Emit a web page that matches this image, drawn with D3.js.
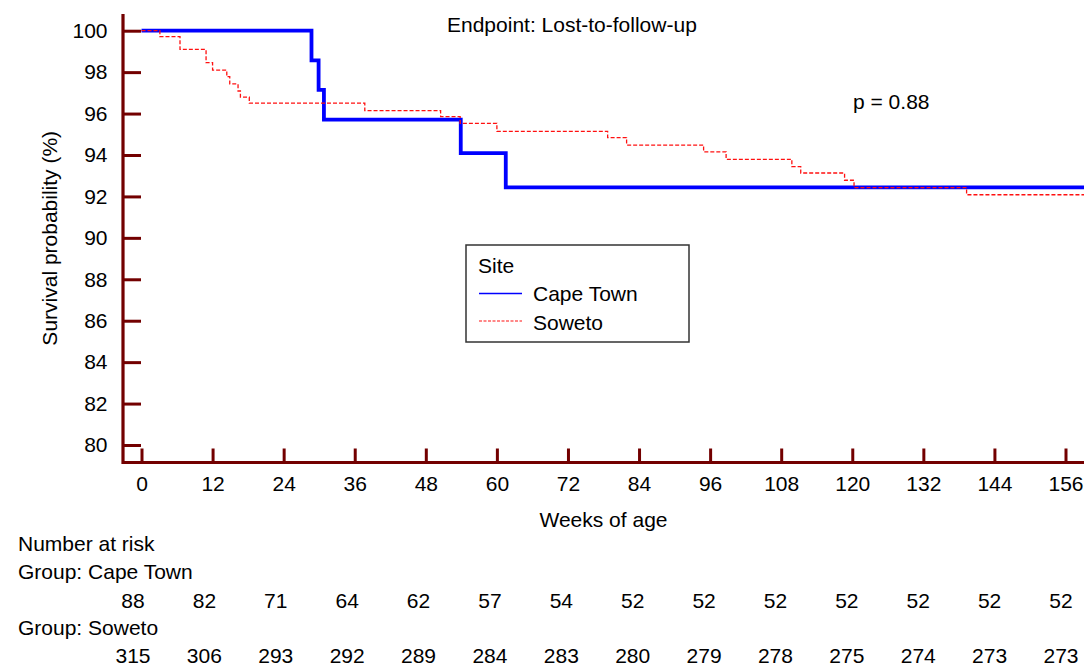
<!DOCTYPE html>
<html>
<head>
<meta charset="utf-8">
<script src="https://cdn.jsdelivr.net/npm/d3@7"></script>
<style>
  body { margin: 0; background: #fff; }
  svg { display: block; font-family: "Liberation Sans", Arial, sans-serif; }
</style>
</head>
<body>
<div id="chart"></div>
<script>
// Kaplan-Meier curves (weeks, survival %)
const capeWeeks = [0, 28.7, 29.9, 30.8, 53.9, 61.5];
const capeSurv  = [100, 98.57, 97.14, 95.71, 94.09, 92.44];

const sowetoWeeks = [0, 3.1, 6.5, 10.9, 12.0, 14.4, 14.9, 16.3, 16.7, 18.2, 37.7, 50.5, 53.8, 60.0,
                     78.7, 81.9, 94.9, 98.7, 109.8, 111.3, 118.7, 120.3, 139.3];
const sowetoSurv  = [100, 99.71, 99.10, 98.46, 98.10, 97.78, 97.43, 97.09, 96.79, 96.50, 96.14, 95.85, 95.53, 95.14,
                     94.84, 94.48, 94.15, 93.79, 93.44, 93.13, 92.78, 92.42, 92.08];

// axis ticks
const weekTicks = [0, 12, 24, 36, 48, 60, 72, 84, 96, 108, 120, 132, 144, 156];
const survTicks = [80, 82, 84, 86, 88, 90, 92, 94, 96, 98, 100];

// number at risk table
const capeAtRisk   = [88, 82, 71, 64, 62, 57, 54, 52, 52, 52, 52, 52, 52, 52];
const sowetoAtRisk = [315, 306, 293, 292, 289, 284, 283, 280, 279, 278, 275, 274, 273, 273];

const W = 1084, H = 668;
const axisColor = "#730000";
const fs = 21;

const svg = d3.select("#chart").append("svg")
  .attr("width", W)
  .attr("height", H);

// scales
const x = d3.scaleLinear().domain([0, 156]).range([141.5, 1065.5]);
const y = d3.scaleLinear().domain([80, 100]).range([445, 30.7]);
const tableX = d3.scaleLinear().domain([0, 156]).range([133, 1061]);

const plotLeft = 123, plotBottom = 462.5, plotTop = 14, plotRight = W;
const endWeek = x.invert(plotRight);

// axes (ticks point inward)
const xAxis = d3.axisBottom(x)
  .tickValues(weekTicks)
  .tickSizeInner(-14)
  .tickSizeOuter(0)
  .tickPadding(13.5);

const yAxis = d3.axisLeft(y)
  .tickValues(survTicks)
  .tickSizeInner(-18)
  .tickSizeOuter(0)
  .tickPadding(15.5);

const gx = svg.append("g").attr("transform", `translate(0,${plotBottom})`).call(xAxis);
const gy = svg.append("g").attr("transform", `translate(${plotLeft},0)`).call(yAxis);

[gx, gy].forEach(g => {
  g.select(".domain").remove();
  g.selectAll(".tick line").attr("stroke", axisColor).attr("stroke-width", 3);
  g.selectAll(".tick text")
    .attr("fill", "#000")
    .style("font-size", fs + "px")
    .style("font-family", "'Liberation Sans', Arial, sans-serif");
});

// axis lines
svg.append("line")
  .attr("x1", plotLeft).attr("x2", plotRight)
  .attr("y1", plotBottom).attr("y2", plotBottom)
  .attr("stroke", axisColor).attr("stroke-width", 3.2);
svg.append("line")
  .attr("x1", plotLeft).attr("x2", plotLeft)
  .attr("y1", plotTop).attr("y2", plotBottom + 1.6)
  .attr("stroke", axisColor).attr("stroke-width", 3.2);

// step curves
const toPoints = (weeks, surv) => {
  const pts = weeks.map((w, i) => [w, surv[i]]);
  pts.push([endWeek, surv[surv.length - 1]]);
  return pts;
};

const stepLine = d3.line()
  .x(d => x(d[0]))
  .y(d => y(d[1]))
  .curve(d3.curveStepAfter);

svg.append("path")
  .datum(toPoints(capeWeeks, capeSurv))
  .attr("d", stepLine)
  .attr("fill", "none")
  .attr("stroke", "#0000ff")
  .attr("stroke-width", 3.8);

svg.append("path")
  .datum(toPoints(sowetoWeeks, sowetoSurv))
  .attr("d", stepLine)
  .attr("fill", "none")
  .attr("stroke", "#ff1010")
  .attr("stroke-width", 1.3)
  .attr("stroke-dasharray", "4,2");

// titles
svg.append("text")
  .attr("x", 447).attr("y", 32)
  .style("font-size", fs + "px")
  .text("Endpoint: Lost-to-follow-up");

svg.append("text")
  .attr("x", 853).attr("y", 109)
  .style("font-size", fs + "px")
  .text("p = 0.88");

svg.append("text")
  .attr("x", (plotLeft + plotRight) / 2).attr("y", 527)
  .attr("text-anchor", "middle")
  .style("font-size", fs + "px")
  .text("Weeks of age");

svg.append("text")
  .attr("transform", `translate(57,${(plotTop + plotBottom) / 2}) rotate(-90)`)
  .attr("text-anchor", "middle")
  .style("font-size", fs + "px")
  .text("Survival probability (%)");

// legend
const lg = svg.append("g");
lg.append("rect")
  .attr("x", 466).attr("y", 245)
  .attr("width", 223).attr("height", 97)
  .attr("fill", "#fff")
  .attr("stroke", "#333")
  .attr("stroke-width", 1.5);
lg.append("text").attr("x", 478).attr("y", 273).style("font-size", fs + "px").text("Site");
lg.append("line")
  .attr("x1", 479).attr("x2", 522).attr("y1", 293.5).attr("y2", 293.5)
  .attr("stroke", "#0000ff").attr("stroke-width", 1.3);
lg.append("text").attr("x", 533).attr("y", 301).style("font-size", fs + "px").text("Cape Town");
lg.append("line")
  .attr("x1", 479).attr("x2", 522).attr("y1", 321).attr("y2", 321)
  .attr("stroke", "#ff1010").attr("stroke-width", 1.1).attr("stroke-dasharray", "3,1.5");
lg.append("text").attr("x", 533).attr("y", 329.5).style("font-size", fs + "px").text("Soweto");

// number at risk
const tx = 18;
svg.append("text").attr("x", tx).attr("y", 551).style("font-size", fs + "px").text("Number at risk");
svg.append("text").attr("x", tx).attr("y", 579).style("font-size", fs + "px").text("Group: Cape Town");
svg.append("text").attr("x", tx).attr("y", 635).style("font-size", fs + "px").text("Group: Soweto");

svg.append("g").selectAll("text")
  .data(capeAtRisk)
  .join("text")
  .attr("x", (d, i) => tableX(weekTicks[i]))
  .attr("y", 607.5)
  .attr("text-anchor", "middle")
  .style("font-size", fs + "px")
  .text(d => d);

svg.append("g").selectAll("text")
  .data(sowetoAtRisk)
  .join("text")
  .attr("x", (d, i) => tableX(weekTicks[i]))
  .attr("y", 662.5)
  .attr("text-anchor", "middle")
  .style("font-size", fs + "px")
  .text(d => d);
</script>
</body>
</html>
